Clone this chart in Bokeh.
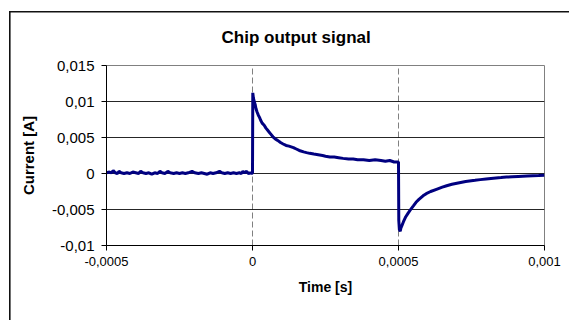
from bokeh.plotting import figure
from bokeh.models import FixedTicker, ColumnDataSource
from bokeh.embed import file_html
from bokeh.resources import INLINE
import numpy as np

# ---- data (time in microseconds, current in milliamperes) ----
pre_time_us = [-500, -490, -483, -477, -470, -463, -457, -450, -440, -430,
               -420, -410, -400, -390, -383, -375, -365, -355, -345, -335,
               -325, -317, -310, -300, -290, -282, -270, -260, -250, -240,
               -230, -220, -207, -198, -185, -175, -165, -155, -145, -135,
               -125, -113, -105, -95, -85, -75, -65, -55, -45, -38,
               -33, -27, -20, -14, -8, -3, 0]
pre_current_ma = [0.1, 0.2, 0.1, 0.4, 0.1, 0.0, 0.3, 0.1, 0.0, 0.1,
                  0.0, 0.2, 0.1, 0.0, 0.3, 0.1, 0.0, 0.1, -0.1, 0.1,
                  0.0, 0.3, 0.1, 0.0, 0.3, 0.1, 0.0, 0.1, 0.0, 0.1,
                  0.0, 0.1, 0.3, 0.1, 0.0, 0.1, 0.0, -0.1, 0.1, 0.0,
                  0.1, 0.3, 0.1, 0.0, 0.1, 0.0, 0.1, 0.0, 0.1, 0.0,
                  0.3, 0.1, 0.3, 0.0, 0.1, 0.0, 0.1]

charge_time_us = [0, 1, 3, 6, 9, 12, 16, 20, 24, 28,
                  33, 40, 46, 52, 58, 62, 70, 78, 86, 96,
                  105, 115, 125, 140, 150, 160, 175, 185, 196, 210,
                  225, 240, 250, 265, 280, 295, 310, 329, 345, 360,
                  380, 400, 420, 440, 455, 470, 485, 497, 500]
charge_current_ma = [0.1, 11.2, 10.5, 10.0, 9.6, 9.0, 8.5, 8.1, 7.8, 7.4,
                     7.0, 6.7, 6.3, 6.0, 5.7, 5.5, 5.1, 4.8, 4.6, 4.3,
                     4.1, 3.9, 3.8, 3.6, 3.4, 3.2, 3.0, 2.9, 2.8, 2.7,
                     2.6, 2.5, 2.4, 2.3, 2.3, 2.2, 2.1, 2.0, 2.0, 1.9,
                     1.9, 1.8, 1.9, 1.8, 1.7, 1.8, 1.6, 1.6, 1.6]

discharge_time_us = [500, 501, 503, 506, 508, 512, 517, 525, 533, 540,
                     551, 560, 570, 584, 595, 610, 630, 650, 665, 683,
                     700, 730, 762, 780, 800, 825, 851, 870, 890, 910,
                     940, 960, 980, 1000]
discharge_current_ma = [1.6, -6.5, -7.8, -8.0, -7.6, -7.2, -6.7, -6.0, -5.5, -5.1,
                        -4.5, -4.0, -3.6, -3.1, -2.8, -2.5, -2.2, -1.9, -1.7, -1.5,
                        -1.35, -1.1, -0.95, -0.85, -0.75, -0.65, -0.57, -0.5, -0.45, -0.4,
                        -0.34, -0.3, -0.28, -0.25]

x_ticks = [-0.0005, 0, 0.0005, 0.001]
x_tick_labels = ["-0,0005", "0", "0,0005", "0,001"]
y_ticks = [-0.01, -0.005, 0, 0.005, 0.01, 0.015]
y_tick_labels = ["-0,01", "-0,005", "0", "0,005", "0,01", "0,015"]

time_s = np.array(pre_time_us + charge_time_us + discharge_time_us) * 1e-6
current_a = np.array(pre_current_ma + charge_current_ma + discharge_current_ma) * 1e-3

FONT = "Liberation Sans"

p = figure(width=569, height=320, output_backend="svg", toolbar_location=None,
           x_range=(x_ticks[0], x_ticks[-1]), y_range=(y_ticks[0], y_ticks[-1]),
           min_border_left=106, min_border_right=25, min_border_top=65, min_border_bottom=75,
           title="Chip output signal")
# outer chart frame (left and top edges), drawn as the element background
p.border_fill_color = None
p.styles = {
    "background-color": "white",
    "background-image": "linear-gradient(#111111, #111111), linear-gradient(#111111, #111111)",
    "background-size": "1.6px 100%, 100% 1.5px",
    "background-position": "8.8px 11.4px, 8.8px 11.4px",
    "background-repeat": "no-repeat",
}

p.title.text_font = FONT
p.title.text_font_size = "17px"
p.title.text_font_style = "bold"
p.title.text_color = "black"
p.title.align = "left"
p.title.offset = 115
p.title.standoff = 38

p.outline_line_color = "#808080"
p.outline_line_width = 1

p.xaxis.ticker = FixedTicker(ticks=x_ticks)
p.xaxis.major_label_overrides = dict(zip(x_ticks, x_tick_labels))
p.yaxis.ticker = FixedTicker(ticks=y_ticks)
p.yaxis.major_label_overrides = dict(zip(y_ticks, y_tick_labels))

for ax in (p.xaxis[0], p.yaxis[0]):
    ax.axis_line_color = "black"
    ax.major_tick_line_color = "black"
    ax.major_tick_out = 5
    ax.major_tick_in = 0
    ax.minor_tick_line_color = None
    ax.major_label_text_font = FONT
    ax.major_label_text_color = "black"
    ax.axis_label_text_font = FONT
    ax.axis_label_text_font_style = "bold"
    ax.axis_label_text_color = "black"

p.xaxis.major_label_text_font_size = "13px"
p.yaxis.major_label_text_font_size = "15px"
p.xaxis.major_label_standoff = 6
p.yaxis.major_label_standoff = 7
p.xaxis.axis_label = "Time [s]"
p.yaxis.axis_label = "Current [A]"
p.xaxis.axis_label_text_font_size = "14px"
p.yaxis.axis_label_text_font_size = "15px"
p.xaxis.axis_label_standoff = 10
p.yaxis.axis_label_standoff = 12

p.ygrid.ticker = FixedTicker(ticks=[-0.005, 0, 0.005, 0.01])
p.ygrid.grid_line_color = "black"
p.ygrid.grid_line_alpha = 0.85
p.xgrid.ticker = FixedTicker(ticks=[0, 0.0005, 0.001])
p.xgrid.grid_line_color = "#808080"
p.xgrid.grid_line_dash = "6 3"

src = ColumnDataSource(dict(t=time_s, i=current_a))
p.line("t", "i", source=src, line_color="#000080", line_width=3)

open("out.html", "w").write(file_html(p, INLINE))
